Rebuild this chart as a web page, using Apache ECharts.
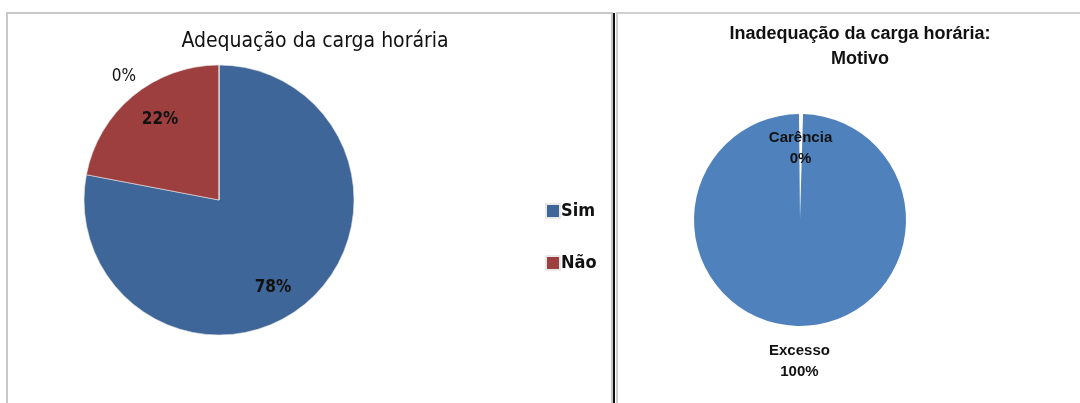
<!DOCTYPE html>
<html>
<head>
<meta charset="utf-8">
<script src="https://cdn.jsdelivr.net/npm/echarts@6/dist/echarts.min.js"></script>
<style>
  html, body { margin: 0; padding: 0; background: #fff; }
  #chart { width: 1080px; height: 403px; }
</style>
</head>
<body>
<div id="chart"></div>
<script>
// dados do gráfico da esquerda
const adequacaoNomes = ["Sim", "Não", ""]
const adequacaoValores = [78, 22, 0]
const adequacaoCores = ["#3F6699", "#9D3F3F", "#9D3F3F"]
// dados do gráfico da direita
const motivoNomes = ["Carência", "Excesso"]
const motivoValores = [0, 100]

// deslocamento dos rótulos (estilo)
const adequacaoOffsets = [[9, 33], [-14, -26], [-95, -53]]
const adequacaoPeso = ["bold", "bold", "normal"]
const motivoOffsets = [[0, -16], [0, 85]]

const narrow = "'DejaVu Sans Condensed', 'Liberation Sans', sans-serif"
const arial = "'Liberation Sans', Arial, sans-serif"

const chart = echarts.init(document.getElementById("chart"))

const option = {
  backgroundColor: "#fff",
  animation: false,
  title: [
    {
      text: "Adequação da carga horária",
      left: 310,
      top: 26,
      textAlign: "center",
      textStyle: { fontFamily: narrow, fontSize: 21, fontWeight: "normal", color: "#111" }
    },
    {
      text: "Inadequação da carga horária:\nMotivo",
      left: 855,
      top: 17,
      textAlign: "center",
      textStyle: { fontFamily: arial, fontSize: 18, fontWeight: "bold", color: "#111", lineHeight: 25 }
    }
  ],
  legend: {
    orient: "vertical",
    left: 540,
    top: 197,
    itemWidth: 14,
    itemHeight: 14,
    itemGap: 34,
    icon: "rect",
    data: ["Sim", "Não"],
    textStyle: { fontFamily: narrow, fontSize: 18, fontWeight: "bold", color: "#111", padding: [0, 0, 0, -4] }
  },
  graphic: [
    { type: "rect", shape: { x: 7, y: 13, width: 605, height: 420 }, style: { fill: "none", stroke: "#c8c8c8", lineWidth: 2 } },
    { type: "rect", shape: { x: 613, y: 13, width: 2, height: 400 }, style: { fill: "#111" } },
    { type: "rect", shape: { x: 617, y: 13, width: 480, height: 420 }, style: { fill: "none", stroke: "#d0d0d0", lineWidth: 2 } }
  ],
  series: [
    {
      type: "pie",
      center: [219, 200],
      radius: 135,
      startAngle: 90,
      clockwise: true,
      avoidLabelOverlap: false,
      itemStyle: { borderColor: "#e8e8e8", borderWidth: 0.6 },
      label: {
        show: true,
        position: "inside",
        formatter: "{d}%",
        fontFamily: narrow,
        fontSize: 17,
        color: "#111"
      },
      labelLine: { show: false },
      emphasis: { disabled: true },
      data: adequacaoValores.map((v, i) => ({
        name: adequacaoNomes[i],
        value: v,
        itemStyle: { color: adequacaoCores[i] },
        label: { offset: adequacaoOffsets[i], fontWeight: adequacaoPeso[i] }
      }))
    },
    {
      type: "pie",
      center: [800, 220],
      radius: 106,
      startAngle: 90,
      clockwise: true,
      padAngle: 1.1,
      avoidLabelOverlap: false,
      itemStyle: { color: "#4F81BD" },
      label: {
        show: true,
        position: "inside",
        formatter: "{b}\n{d}%",
        fontFamily: arial,
        fontSize: 15,
        fontWeight: "bold",
        lineHeight: 21,
        color: "#111"
      },
      labelLine: { show: false },
      emphasis: { disabled: true },
      data: motivoValores.map((v, i) => ({
        name: motivoNomes[i],
        value: v,
        label: { offset: motivoOffsets[i] }
      }))
    }
  ]
}

chart.setOption(option)
</script>
</body>
</html>
